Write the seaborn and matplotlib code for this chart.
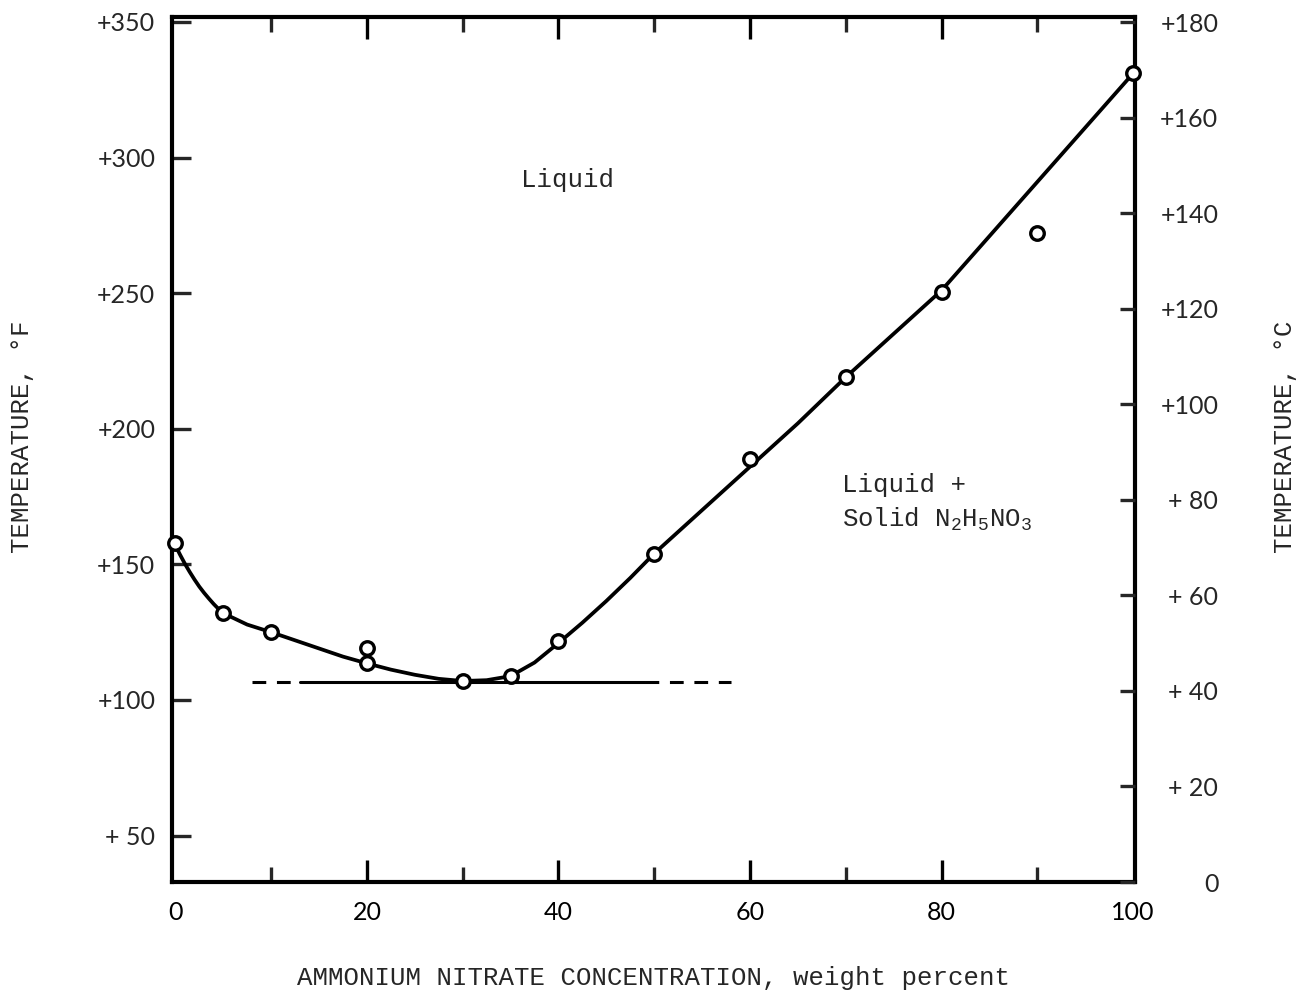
import numpy as np
import pandas as pd
import matplotlib
matplotlib.use("Agg")
import matplotlib.pyplot as plt
import seaborn as sns

# Measured freezing points, hydrazinium nitrate - ammonium nitrate system
an_percent = [0, 5, 10, 20, 20, 30, 35, 40, 50, 60, 70, 80, 90, 100]
freeze_F = [158, 132, 125, 119, 113.5, 107, 108.8, 121.8, 154, 189, 219, 250.5, 272, 331]

# Faired liquidus curve through the measurements
curve_x = [0, 0.5, 1, 1.5, 2, 2.5, 3, 3.5, 4, 4.5, 5, 7.5, 10, 12.5, 15, 17.5,
           20, 22.5, 25, 27.5, 30, 32.5, 35, 37.5, 40, 42.5, 45, 47.5, 50,
           55, 60, 65, 70, 75, 80, 85, 90, 95, 100]
curve_F = [157, 153.5, 150.2, 147.2, 144.4, 141.8, 139.5, 137.4, 135.4, 133.6, 132,
           127.8, 125, 122, 119, 116, 113.5, 111.2, 109.3, 107.8, 107, 107.3,
           108.8, 113.8, 121, 128.5, 136.5, 145, 154,
           170, 186, 202, 219, 235, 251, 271, 291, 311, 331]

# Eutectic line
eutectic_F = 106.5
eutectic_solid_x = [13, 49]
eutectic_dash_left_x = [8, 13]
eutectic_dash_right_x = [49, 58]

x_ticks = [0, 20, 40, 60, 80, 100]
x_minor = [10, 30, 50, 70, 90]
f_ticks = [50, 100, 150, 200, 250, 300, 350]
f_labels = ["+ 50", "+100", "+150", "+200", "+250", "+300", "+350"]
c_ticks = [0, 20, 40, 60, 80, 100, 120, 140, 160, 180]
c_labels = ["0", "+ 20", "+ 40", "+ 60", "+ 80", "+100", "+120", "+140", "+160", "+180"]

sns.set_theme(style="white")
plt.rcParams["font.family"] = ["Liberation Mono", "DejaVu Sans"]
plt.rcParams["mathtext.fontset"] = "custom"
plt.rcParams["mathtext.rm"] = "Liberation Mono"

fig = plt.figure(figsize=(13.14, 10), dpi=100)
ax = fig.add_axes([172 / 1314, 118 / 1000, 963 / 1314, 865 / 1000])

curve_df = pd.DataFrame({"x": curve_x, "F": curve_F})
pts_df = pd.DataFrame({"x": an_percent, "F": freeze_F})

sns.lineplot(data=curve_df, x="x", y="F", ax=ax, color="black", lw=2.7,
             sort=False, zorder=3, clip_on=False)
sns.scatterplot(data=pts_df, x="x", y="F", ax=ax, s=95, marker="o",
                facecolor="white", edgecolor="black", linewidth=2.4,
                zorder=5, clip_on=False)

ax.plot(eutectic_solid_x, [eutectic_F] * 2, color="black", lw=2.2, zorder=2)
for seg in (eutectic_dash_left_x, eutectic_dash_right_x):
    ax.plot(seg, [eutectic_F] * 2, color="black", lw=2.2,
            dashes=(4.5, 3.5), zorder=2)

ax.set_xlim(-0.35, 100.2)
ax.set_ylim(32.9, 351.8)

ax.set_xticks(x_ticks)
ax.set_xticks(x_minor, minor=True)
ax.set_yticks(f_ticks)
ax.set_yticklabels(f_labels)

for lab in ax.get_xticklabels() + ax.get_yticklabels():
    lab.set_fontfamily("Lato")
    lab.set_fontsize(18)

ax.tick_params(axis="x", which="major", direction="in", length=16, width=2.4,
               top=True, bottom=True, pad=14, colors="black")
ax.tick_params(axis="x", which="minor", direction="in", length=11, width=2.4,
               top=True, bottom=True)
ax.tick_params(axis="y", which="major", direction="in", length=14, width=2.4,
               left=True, right=False, pad=12)

# the end ticks coincide with the side frames
for t in (ax.xaxis.get_major_ticks()[0], ax.xaxis.get_major_ticks()[-1]):
    t.tick1line.set_visible(False)
    t.tick2line.set_visible(False)

for sp in ax.spines.values():
    sp.set_linewidth(3.0)
    sp.set_color("black")

ax2 = ax.twinx()
ax2.set_ylim(0, 181.05)
ax2.set_yticks(c_ticks)
ax2.set_yticklabels(c_labels)
for lab in ax2.get_yticklabels():
    lab.set_fontfamily("Lato")
    lab.set_fontsize(18)
    lab.set_horizontalalignment("right")
ax2.tick_params(axis="y", direction="in", length=11, width=2.4, pad=60,
                right=True, left=False)
for sp in ax2.spines.values():
    sp.set_visible(False)
ax2.grid(False)
ax.grid(False)

ax.set_xlabel("AMMONIUM NITRATE CONCENTRATION, weight percent", fontsize=18.5,
              labelpad=30)
ax.set_ylabel("TEMPERATURE, °F", fontsize=18.5, va="center")
ax.yaxis.set_label_coords(-0.156, 0.515)
ax2.set_ylabel("TEMPERATURE, °C", fontsize=18.5, rotation=90, va="center")
ax2.yaxis.set_label_coords(1.156, 0.515)

ax.text(40.9, 291.7, "Liquid", fontsize=18.5, ha="center", va="center")
ax.text(69.6, 179.3, "Liquid +", fontsize=18.5, ha="left", va="center")
ax.text(69.6, 166.4, r"Solid $\mathregular{N_2H_5NO_3}$", fontsize=18.5,
        ha="left", va="center")

fig.savefig("out.png", dpi=100, facecolor="white")
